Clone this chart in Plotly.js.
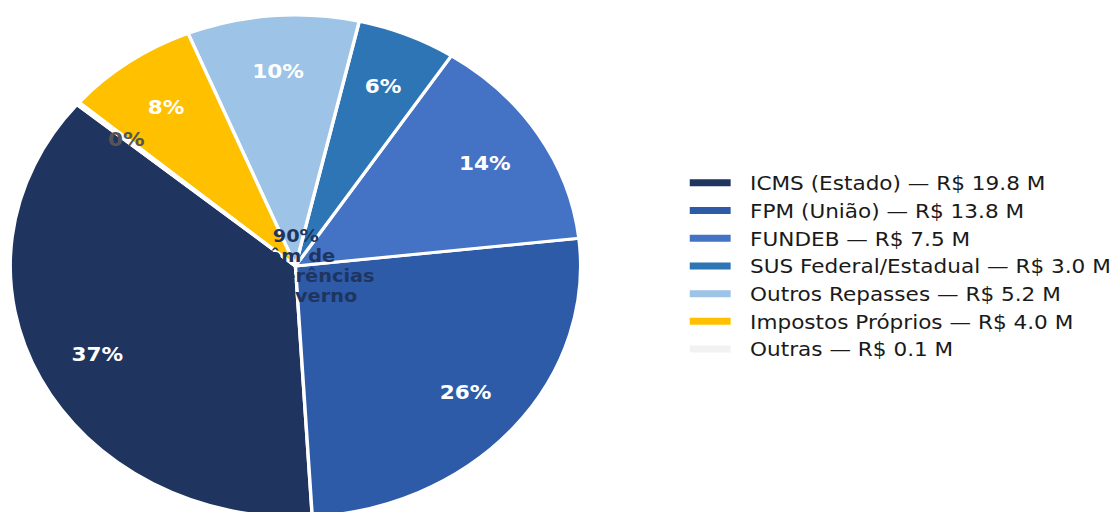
<!DOCTYPE html>
<html>
<head>
<meta charset="utf-8">
<script src="https://cdn.plot.ly/plotly-3.0.1.min.js"></script>
<style>
html,body{margin:0;padding:0;overflow:hidden;background:#fff;width:1117px;height:512px;}
#wrap{width:1117px;height:512px;overflow:hidden;position:relative;}
#chart{width:983px;height:530px;transform:scaleX(1.13632);transform-origin:0 0;}
</style>
</head>
<body>
<div id="wrap"><div id="chart"></div></div>
<script>
// ---- data ----
const categories = ['ICMS (Estado)', 'FPM (União)', 'FUNDEB', 'SUS Federal/Estadual', 'Outros Repasses', 'Impostos Próprios', 'Outras'];
const valuesM = [19.8, 13.8, 7.5, 3.0, 5.2, 4.04, 0.1];
const colors = ['#1f3560', '#2d5ba8', '#4472c4', '#2e75b6', '#9dc3e6', '#ffc000', '#f2f2f2'];
const labelColors = ['#ffffff', '#ffffff', '#ffffff', '#ffffff', '#ffffff', '#ffffff', '#555555'];
const centerLines = ['90%', 'vêm de', 'transferências', 'do governo'];

// ---- geometry (pre-scale px) ----
const W = 983, H = 530;
const CX = 260, CY = 266, R = 251;
const START = 140;     // start angle (degrees, ccw from east)
const PCT_DIST = 0.78;
const LINE_GAP = 20;

const total = valuesM.reduce((a, b) => a + b, 0);
const rotation = 90 - START - valuesM[0] / total * 360;

const cxP = CX / W, cyP = (H - CY) / H;

const traces = [{
  type: 'pie',
  values: valuesM,
  labels: categories,
  sort: false,
  direction: 'counterclockwise',
  rotation: rotation,
  marker: {colors: colors, line: {color: '#ffffff', width: 3}},
  textinfo: 'none',
  hoverinfo: 'none',
  showlegend: false,
  domain: {x: [(CX - R) / W, (CX + R) / W], y: [(H - CY - R) / H, (H - CY + R) / H]}
}];

categories.forEach((c, i) => {
  traces.push({
    type: 'scatter', mode: 'lines', x: [null], y: [null],
    name: '\u00a0\u00a0' + c + ' — R$ ' + valuesM[i].toFixed(1) + ' M',
    line: {color: colors[i], width: 7},
    hoverinfo: 'none', showlegend: true
  });
});

const annotations = [];
let cum = 0;
valuesM.forEach((v, i) => {
  const mid = START + (cum + v / 2) / total * 360;
  cum += v;
  const a = mid * Math.PI / 180;
  annotations.push({
    xref: 'paper', yref: 'paper',
    x: cxP + PCT_DIST * R * Math.cos(a) / W,
    y: cyP + PCT_DIST * R * Math.sin(a) / H,
    text: Math.round(v / total * 100) + '%',
    showarrow: false, xanchor: 'center', yanchor: 'middle',
    font: {family: 'DejaVu Sans', size: 19, color: labelColors[i], weight: 'bold'}
  });
});
centerLines.forEach((s, k) => {
  annotations.push({
    xref: 'paper', yref: 'paper', x: cxP,
    y: cyP - (k - (centerLines.length - 1) / 2) * LINE_GAP / H,
    text: '<b>' + s + '</b>',
    showarrow: false, xanchor: 'center', yanchor: 'middle', align: 'center',
    font: {family: 'DejaVu Sans', size: 17, color: colors[0]}
  });
});

const layout = {
  width: W, height: H,
  margin: {l: 0, r: 0, t: 0, b: 0},
  paper_bgcolor: '#ffffff', plot_bgcolor: 'rgba(0,0,0,0)',
  xaxis: {visible: false}, yaxis: {visible: false},
  showlegend: true,
  legend: {
    x: 602 / W, xanchor: 'left', y: cyP, yanchor: 'middle',
    font: {family: 'DejaVu Sans', size: 19, color: '#1a1a1a'},
    itemwidth: 36, bgcolor: 'rgba(0,0,0,0)', traceorder: 'normal'
  },
  annotations: annotations
};

Plotly.newPlot('chart', traces, layout, {displayModeBar: false, staticPlot: true});
</script>
</body>
</html>
